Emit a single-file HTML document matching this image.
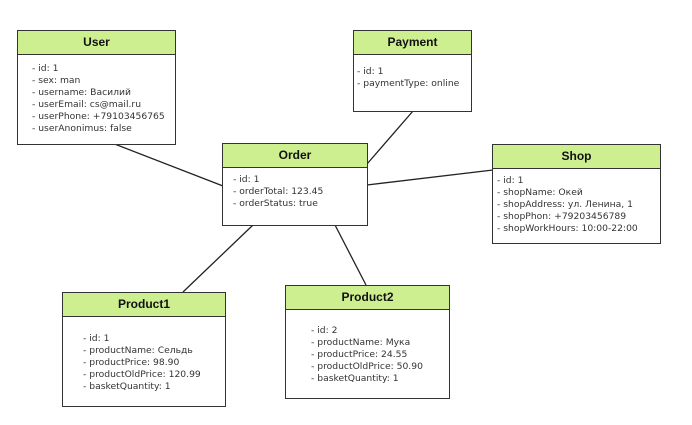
<!DOCTYPE html>
<html><head><meta charset="utf-8"><style>
body{margin:0;width:692px;height:425px;background:#fff;position:relative;overflow:hidden;font-family:"DejaVu Sans","Liberation Sans",sans-serif}
.b{position:absolute;border:1.5px solid #333;background:#fff;box-sizing:border-box}
.h{background:#cdef8f;border-bottom:1.5px solid #333;height:24px;box-sizing:border-box;text-align:center;font:bold 12px/22px "Liberation Sans",sans-serif;color:#111}
.t{position:absolute;font-size:9.2px;line-height:12px;color:#333;white-space:pre}
svg{position:absolute;left:0;top:0}
</style></head><body>
<svg width="692" height="425"><g stroke="#222" stroke-width="1.3">
<line x1="112" y1="143" x2="223" y2="186"/>
<line x1="413" y1="111" x2="367" y2="164"/>
<line x1="367" y1="185" x2="493" y2="170"/>
<line x1="253" y1="225" x2="183" y2="292"/>
<line x1="335" y1="225" x2="366" y2="285"/>
</g></svg>
<div class="b" style="left:17px;top:30px;width:159px;height:115px"><div class="h">User</div>
<div class="t" style="left:14px;top:32px">- id: 1
- sex: man
- username: Василий
- userEmail: cs@mail.ru
- userPhone: +79103456765
- userAnonimus: false</div></div>
<div class="b" style="left:353px;top:30px;width:119px;height:82px"><div class="h">Payment</div>
<div class="t" style="left:3px;top:35px">- id: 1
- paymentType: online</div></div>
<div class="b" style="left:222px;top:143px;width:146px;height:83px"><div class="h">Order</div>
<div class="t" style="left:10px;top:30px">- id: 1
- orderTotal: 123.45
- orderStatus: true</div></div>
<div class="b" style="left:492px;top:144px;width:169px;height:100px"><div class="h">Shop</div>
<div class="t" style="left:4px;top:30px">- id: 1
- shopName: Окей
- shopAddress: ул. Ленина, 1
- shopPhon: +79203456789
- shopWorkHours: 10:00-22:00</div></div>
<div class="b" style="left:62px;top:292px;width:164px;height:115px"><div class="h">Product1</div>
<div class="t" style="left:20px;top:40px">- id: 1
- productName: Сельдь
- productPrice: 98.90
- productOldPrice: 120.99
- basketQuantity: 1</div></div>
<div class="b" style="left:285px;top:285px;width:165px;height:114px"><div class="h">Product2</div>
<div class="t" style="left:25px;top:39px">- id: 2
- productName: Мука
- productPrice: 24.55
- productOldPrice: 50.90
- basketQuantity: 1</div></div>
</body></html>
